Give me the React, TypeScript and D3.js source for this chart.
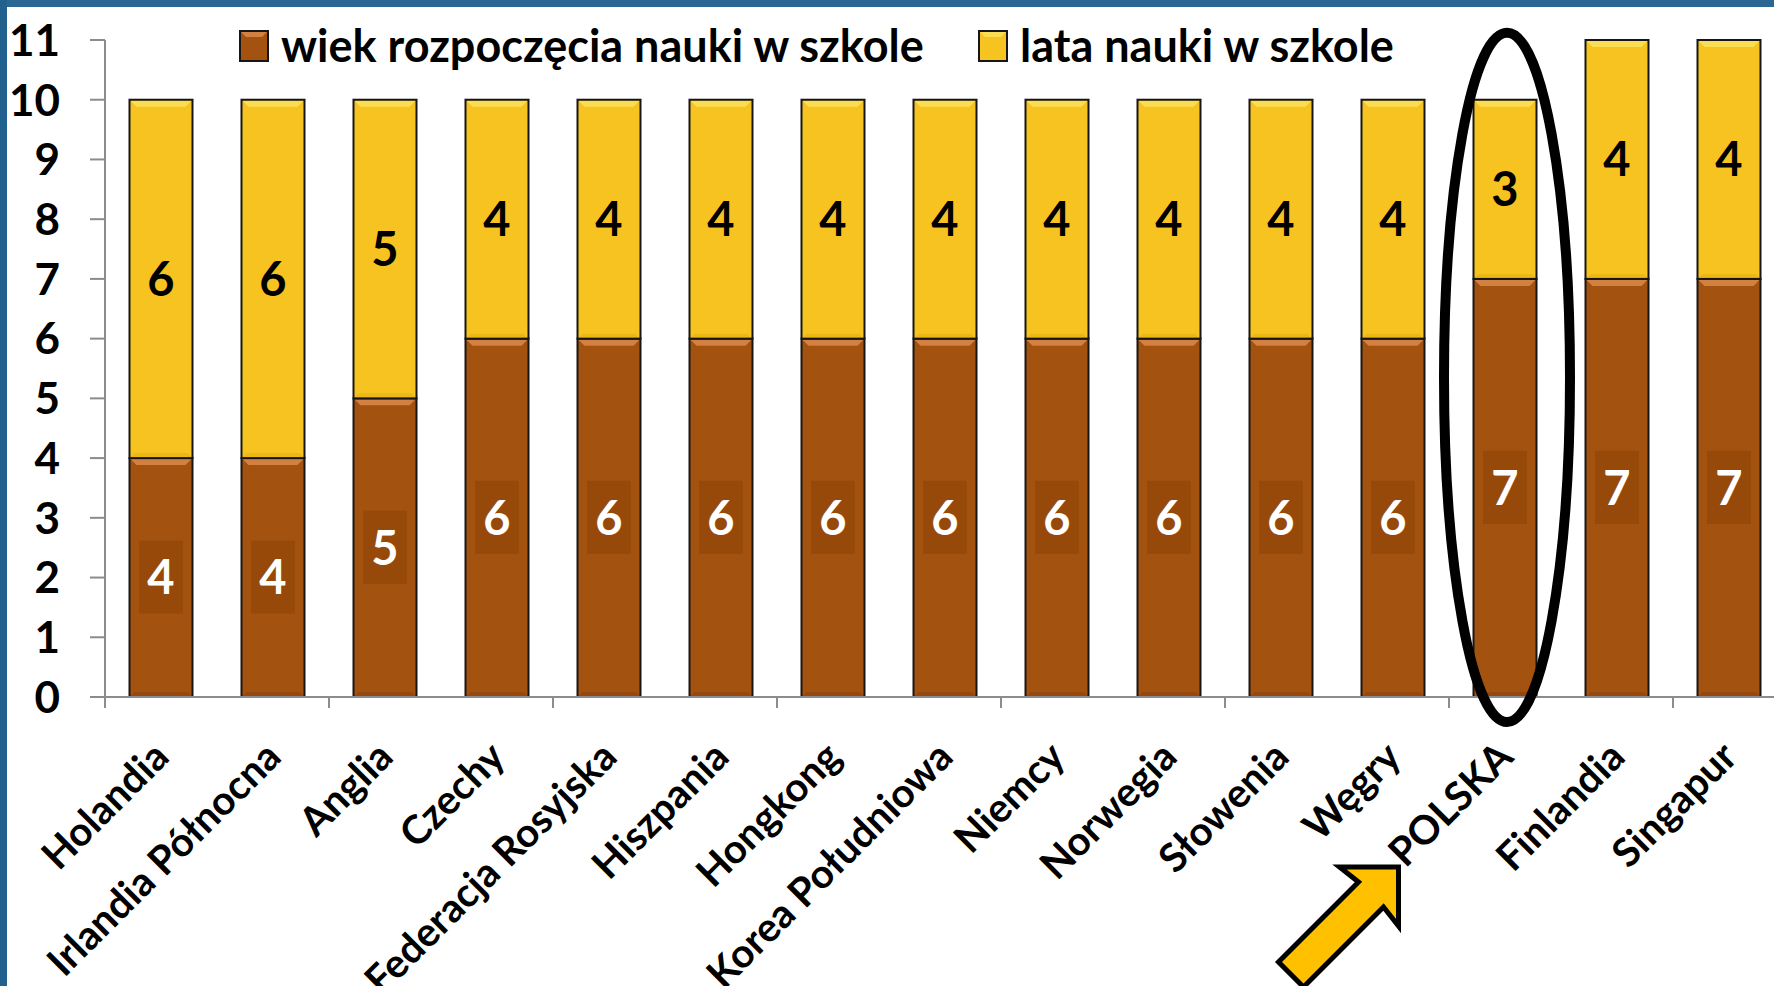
import React from "react";
import * as d3 from "d3";

const W = 1774;
const H = 986;

const categories = [
  "Holandia",
  "Irlandia Północna",
  "Anglia",
  "Czechy",
  "Federacja Rosyjska",
  "Hiszpania",
  "Hongkong",
  "Korea Południowa",
  "Niemcy",
  "Norwegia",
  "Słowenia",
  "Węgry",
  "POLSKA",
  "Finlandia",
  "Singapur",
];
const startAge = [4, 4, 5, 6, 6, 6, 6, 6, 6, 6, 6, 6, 7, 7, 7];
const schoolYears = [6, 6, 5, 4, 4, 4, 4, 4, 4, 4, 4, 4, 3, 4, 4];
const seriesKeys = ["start", "years"];
const seriesNames = ["wiek rozpoczęcia nauki w szkole", "lata nauki w szkole"];
const yTicks = d3.range(0, 12);
const highlight = "POLSKA";

const font = "Lato, 'Open Sans', sans-serif";
const fills: Record<string, { base: string; top: string; bottom: string; label: string; box?: string }> = {
  start: { base: "#A3520F", top: "#DC8A4C", bottom: "#8A430B", label: "#ffffff", box: "#96480A" },
  years: { base: "#F6C320", top: "#FCE25C", bottom: "#E8B010", label: "#000000" },
};

// plot area (right end runs past the picture, like the original crop)
const x0 = 105;
const x1 = 1785;
const yZero = 697;
const yTop = 40;

const rows = categories.map((c, i) => ({ cat: c, start: startAge[i], years: schoolYears[i] }));

const App = () => {
  const x = d3.scaleBand<string>().domain(categories).range([x0, x1]).paddingInner(0.4375).paddingOuter(0.21875);
  const y = d3.scaleLinear().domain([0, 11]).range([yZero, yTop]);
  const stacked = d3.stack<any>().keys(seriesKeys)(rows);
  const bw = x.bandwidth();
  const step = x.step();
  const boundaries = d3.range(0, categories.length + 1, 2).map((k) => x0 + k * step);

  // ellipse around the highlighted bar
  const hx = (x(highlight) as number) + bw / 2 + 2;
  const eTop = y(11.12);
  const eBot = y(-0.42);

  // arrow pointing at the highlighted label, tip in local coords at 0,0
  const arrowPts = [
    [-59, 0], [0, 0], [0, 59], [-15, 40], [-95, 120], [-120, 95], [-40, 15],
  ];
  const arrowX = (x(highlight) as number) - 75;
  const arrowY = 867;

  const bevel = (bx: number, by: number, w: number, d: number, down: boolean) => {
    const s = down ? 1 : -1;
    return [
      [bx + 1, by + s],
      [bx + w - 1, by + s],
      [bx + w - d, by + s * d],
      [bx + d, by + s * d],
    ].map((p) => p.join(",")).join(" ");
  };

  return (
    <div>
      <style>{`body{margin:0;background:#fff}`}</style>
      <svg width={W} height={H} style={{ display: "block" }} fontFamily={font}>
        <rect x={0} y={0} width={W} height={H} fill="#ffffff" />
        <rect x={0} y={0} width={W} height={7} fill="#2A6793" />
        <rect x={0} y={0} width={7} height={H} fill="#22608D" />

        {/* bars */}
        {stacked.map((layer) => {
          const c = fills[layer.key];
          return (
            <g key={layer.key}>
              {layer.map((d, i) => {
                const bx = x(categories[i]) as number;
                const yt = y(d[1]);
                const yb = y(d[0]);
                const h = yb - yt;
                return (
                  <g key={i}>
                    <rect x={bx} y={yt} width={bw} height={h} fill={c.base} />
                    <polygon points={bevel(bx, yt, bw, 7, true)} fill={c.top} opacity={0.85} />
                    <polygon points={bevel(bx, yb, bw, 5, false)} fill={c.bottom} opacity={0.6} />
                    <rect x={bx} y={yt} width={bw} height={h} fill="none" stroke="#161616" strokeWidth={2} />
                  </g>
                );
              })}
            </g>
          );
        })}

        {/* value labels */}
        {stacked.map((layer) => {
          const c = fills[layer.key];
          return (
            <g key={"l" + layer.key}>
              {layer.map((d, i) => {
                const cx = (x(categories[i]) as number) + bw / 2;
                const cy = y((d[0] + d[1]) / 2);
                return (
                  <g key={i}>
                    {c.box && <rect x={cx - 22} y={cy - 37} width={44} height={73} fill={c.box} opacity={0.9} />}
                    <text x={cx} y={cy} dy="0.36em" textAnchor="middle" fontSize={47} fontWeight={700} fill={c.label}>
                      {d[1] - d[0]}
                    </text>
                  </g>
                );
              })}
            </g>
          );
        })}

        {/* axes */}
        <g stroke="#8C8C8C" strokeWidth={2}>
          <line x1={x0} x2={x0} y1={yTop} y2={yZero + 11} />
          <line x1={x0} x2={x1} y1={yZero} y2={yZero} />
          {yTicks.map((t) => (
            <line key={t} x1={x0 - 15} x2={x0} y1={y(t)} y2={y(t)} />
          ))}
          {boundaries.map((b) => (
            <line key={b} x1={b} x2={b} y1={yZero} y2={yZero + 11} />
          ))}
        </g>
        {yTicks.map((t) => (
          <text key={t} x={60} y={y(t)} dy="0.36em" textAnchor="end" fontSize={44} fontWeight={700} fill="#000">
            {t}
          </text>
        ))}
        {categories.map((c) => {
          const cx = (x(c) as number) + bw / 2;
          return (
            <text
              key={c}
              transform={`translate(${cx - 11},${738}) rotate(-45)`}
              dy="0.75em"
              textAnchor="end"
              fontSize={40}
              fontWeight={700}
              fill="#000"
            >
              {c}
            </text>
          );
        })}

        {/* highlight */}
        <ellipse cx={hx} cy={(eTop + eBot) / 2} rx={bw} ry={(eBot - eTop) / 2} fill="none" stroke="#000" strokeWidth={10} />
        <polygon
          transform={`translate(${arrowX},${arrowY})`}
          points={arrowPts.map((p) => p.join(",")).join(" ")}
          fill="#FFC000"
          stroke="#000"
          strokeWidth={5}
          strokeLinejoin="miter"
        />

        {/* legend */}
        {seriesKeys.map((k, i) => {
          const lx = i === 0 ? 240 : 979;
          const c = fills[k];
          return (
            <g key={k}>
              <rect x={lx} y={31} width={28} height={30} fill={c.base} />
              <polygon points={bevel(lx, 31, 28, 6, true)} fill={c.top} opacity={0.85} />
              <rect x={lx} y={31} width={28} height={30} fill="none" stroke="#161616" strokeWidth={2} />
              <text x={lx + 41} y={46} dy="0.36em" fontSize={45} fontWeight={700} fill="#000">
                {seriesNames[i]}
              </text>
            </g>
          );
        })}
      </svg>
    </div>
  );
};

export default App;
